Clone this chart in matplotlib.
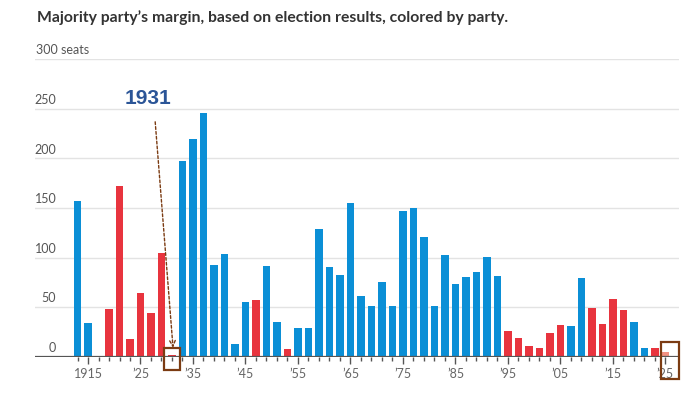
import matplotlib.pyplot as plt
from matplotlib.patches import Rectangle

# Congress elections, every two years
years = [1913, 1915, 1917, 1919, 1921, 1923, 1925, 1927, 1929, 1931,
         1933, 1935, 1937, 1939, 1941, 1943, 1945, 1947, 1949, 1951,
         1953, 1955, 1957, 1959, 1961, 1963, 1965, 1967, 1969, 1971,
         1973, 1975, 1977, 1979, 1981, 1983, 1985, 1987, 1989, 1991,
         1993, 1995, 1997, 1999, 2001, 2003, 2005, 2007, 2009, 2011,
         2013, 2015, 2017, 2019, 2021, 2023, 2025]

# majority party's margin in seats
margins = [157, 34, 1, 48, 172, 18, 64, 44, 105, 2,
           197, 220, 246, 93, 104, 13, 55, 57, 92, 35,
           8, 29, 29, 129, 91, 82, 155, 61, 51, 75,
           51, 147, 150, 121, 51, 103, 73, 80, 85, 101,
           81, 26, 19, 11, 9, 24, 32, 31, 79, 49,
           33, 58, 47, 35, 9, 9, 5]

# D = Democrats, R = Republicans, R? = not yet final
parties = ['D', 'D', 'R', 'R', 'R', 'R', 'R', 'R', 'R', 'R',
           'D', 'D', 'D', 'D', 'D', 'D', 'D', 'R', 'D', 'D',
           'R', 'D', 'D', 'D', 'D', 'D', 'D', 'D', 'D', 'D',
           'D', 'D', 'D', 'D', 'D', 'D', 'D', 'D', 'D', 'D',
           'D', 'R', 'R', 'R', 'R', 'R', 'R', 'D', 'D', 'R',
           'R', 'R', 'R', 'D', 'D', 'R', 'R?']

ytick_values = [0, 50, 100, 150, 200, 250, 300]
xtick_years = [1915, 1925, 1935, 1945, 1955, 1965, 1975, 1985, 1995, 2005, 2015, 2025]
xtick_labels = ['1915', '\u201925', '\u201935', '\u201945', '\u201955', '\u201965',
                '\u201975', '\u201985', '\u201995', '\u201905', '\u201915', '\u201925']
highlight_years = [1931, 2025]

colors = {'D': '#0b8fd6', 'R': '#e8343e', 'R?': '#f29283'}
box_color = '#7b3b12'

plt.rcParams['font.family'] = ['Lato', 'DejaVu Sans']

fig = plt.figure(figsize=(7, 3.94), dpi=100)
ax = fig.add_axes([0.05, 0.0947, 0.92, 0.7546])

ax.bar(years, margins, width=1.4, color=[colors[p] for p in parties], zorder=3)

ax.set_xlim(1904.9, 2027.6)
ax.set_ylim(0, 300)

# gridlines and y labels sitting above them
for v in ytick_values[1:]:
    ax.axhline(v, color='#e3e3e3', lw=1, zorder=1)
ax.axhline(0, color='#555555', lw=1.6, zorder=4)
ytr = ax.get_yaxis_transform()
for v in ytick_values:
    if v == 300:
        ax.text(0.002, v + 3, '300 seats', transform=ytr, ha='left', va='bottom',
                fontsize=9, color='#555555')
    else:
        ax.text(0.033, v + 3, str(v), transform=ytr, ha='right', va='bottom',
                fontsize=9, color='#555555')

for s in ax.spines.values():
    s.set_visible(False)
ax.set_yticks([])
ax.set_xticks(xtick_years)
ax.set_xticklabels(xtick_labels, fontsize=9, color='#666666')
ax.set_xticks(years, minor=True)
ax.tick_params(axis='x', which='major', length=5, width=1, color='#555555', pad=3)
ax.tick_params(axis='x', which='minor', length=3, width=1, color='#555555')

fig.text(0.053, 0.955, 'Majority party\u2019s margin, based on election results, colored by party.',
         fontsize=11.3, fontweight='bold', color='#333333', ha='left', va='center')

# callout for 1931
ax.text(1926.4, 261, '1931', fontsize=15, fontweight='bold', color='#2b5597',
        ha='center', va='center', family=['Liberation Sans', 'DejaVu Sans'])
ax.annotate('', xy=(1931.2, 9), xytext=(1927.8, 237),
            arrowprops=dict(arrowstyle='->', color=box_color, lw=1, ls=(0, (2, 1.5)),
                            shrinkA=0, shrinkB=0), zorder=5)

# boxes round the highlighted bars
ax.add_patch(Rectangle((highlight_years[0] - 1.55, -13.5), 3.1, 22.3, fill=False,
                       edgecolor=box_color, lw=1.6, clip_on=False, zorder=6))
ax.add_patch(Rectangle((highlight_years[1] - 0.8, -22.5), 3.4, 37.3, fill=False,
                       edgecolor=box_color, lw=1.6, clip_on=False, zorder=6))

fig.savefig('out.png', dpi=100)
